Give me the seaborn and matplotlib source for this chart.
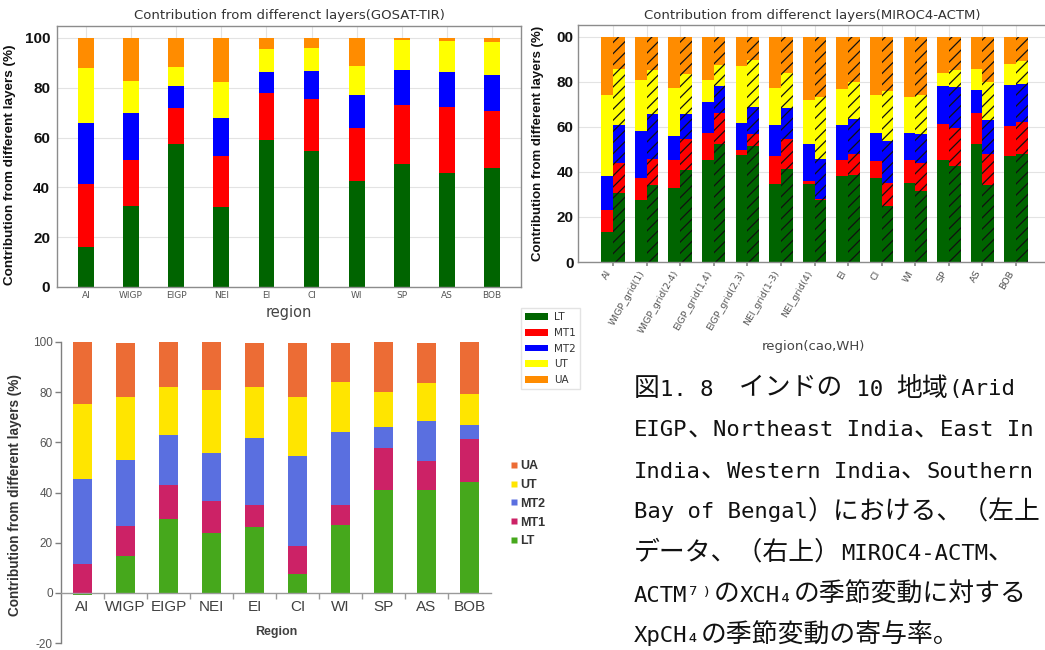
import numpy as np
import pandas as pd
import matplotlib
matplotlib.use("Agg")
import matplotlib.pyplot as plt
import seaborn as sns
from matplotlib.patches import Patch
from matplotlib.lines import Line2D
from matplotlib.offsetbox import TextArea, HPacker, AnchoredOffsetbox

# ---------------- data ----------------
layers = ["LT", "MT1", "MT2", "UT", "UA"]

# Top-left: GOSAT-TIR
gosat_regions = ["AI", "WIGP", "EIGP", "NEI", "EI", "CI", "WI", "SP", "AS", "BOB"]
gosat_LT  = [16.2, 32.4, 57.6, 32.0, 59.0, 54.6, 42.4, 49.3, 45.8, 47.9]
gosat_MT1 = [25.0, 18.7, 14.4, 20.5, 18.9, 21.0, 21.5, 23.8, 26.6, 22.6]
gosat_MT2 = [24.8, 18.8, 8.9, 15.5, 8.5, 11.3, 13.0, 14.1, 14.0, 14.8]
gosat_UT  = [21.9, 13.0, 7.4, 14.2, 9.3, 8.9, 11.7, 11.9, 12.5, 13.0]
gosat_UA  = [12.1, 17.1, 11.7, 17.8, 4.3, 4.2, 11.4, 0.9, 1.1, 1.7]

# Top-right: MIROC4-ACTM (plain bars = cao, hatched bars = WH)
miroc_regions = ["AI", "WIGP_grid(1)", "WIGP_grid(2-4)", "EIGP_grid(1,4)", "EIGP_grid(2,3)",
                 "NEI_grid(1-3)", "NEI_grid(4)", "EI", "CI", "WI", "SP", "AS", "BOB"]
cao_LT  = [13.3, 27.7, 33.0, 45.5, 47.4, 34.5, 34.5, 38.2, 37.3, 35.1, 45.2, 52.3, 47.0]
cao_MT1 = [9.7, 9.6, 12.5, 11.8, 2.2, 12.6, 1.4, 7.3, 7.4, 10.4, 16.3, 13.9, 13.4]
cao_MT2 = [15.2, 20.9, 10.4, 13.8, 12.2, 13.9, 16.4, 15.2, 12.8, 11.8, 16.7, 10.4, 18.1]
cao_UT  = [35.9, 22.5, 21.6, 9.6, 25.3, 16.5, 19.6, 16.3, 16.9, 16.0, 5.8, 9.3, 9.6]
cao_UA  = [25.9, 19.3, 22.5, 19.3, 12.9, 22.5, 28.1, 23.0, 25.6, 26.7, 16.0, 14.1, 11.9]
wh_LT  = [30.8, 34.1, 40.7, 52.6, 51.6, 41.5, 27.7, 38.5, 24.7, 31.6, 42.7, 34.1, 48.1]
wh_MT1 = [13.2, 11.8, 14.1, 13.8, 5.1, 13.3, 0.1, 9.6, 10.6, 12.4, 17.0, 14.0, 14.1]
wh_MT2 = [16.7, 19.7, 10.8, 11.8, 12.2, 13.8, 18.0, 15.6, 18.3, 13.0, 18.1, 15.2, 17.1]
wh_UT  = [24.9, 19.9, 18.1, 9.2, 20.7, 15.4, 27.5, 16.3, 22.3, 17.4, 7.7, 16.7, 10.0]
wh_UA  = [14.4, 14.5, 16.3, 12.6, 10.4, 16.0, 26.7, 20.0, 24.1, 25.6, 14.5, 20.0, 10.7]

# Bottom-left: model study (Excel style)
excel_regions = ["AI", "WIGP", "EIGP", "NEI", "EI", "CI", "WI", "SP", "AS", "BOB"]
excel_LT  = [-1.0, 14.5, 29.6, 23.8, 26.4, 7.7, 27.2, 41.0, 41.0, 44.1]
excel_MT1 = [11.3, 12.1, 13.3, 13.0, 8.8, 11.0, 8.0, 16.8, 11.5, 17.1]
excel_MT2 = [33.9, 26.3, 20.2, 18.8, 26.4, 36.0, 28.8, 8.2, 16.2, 5.6]
excel_UT  = [30.2, 25.3, 19.1, 25.4, 20.3, 23.3, 20.2, 14.1, 15.1, 12.5]
excel_UA  = [24.6, 21.4, 18.1, 19.0, 17.7, 21.6, 15.4, 19.9, 15.8, 20.7]

caption_lines = [
    "図1. 8　インドの 10 地域(Arid",
    "EIGP、Northeast India、East In",
    "India、Western India、Southern",
    "Bay of Bengal）における、（左上",
    "データ、（右上）MIROC4-ACTM、",
    "ACTM⁷⁾のXCH₄の季節変動に対する",
    "XpCH₄の季節変動の寄与率。",
]

top_colors = ["#006400", "#ff0000", "#0000ff", "#ffff00", "#ff8c00"]
excel_colors = ["#46a81c", "#cc2266", "#5a6fe0", "#ffe500", "#ec6c35"]

# ---------------- figure ----------------
sns.set_theme(style="whitegrid")
plt.rcParams["font.family"] = ["DejaVu Sans"]
plt.rcParams["axes.unicode_minus"] = False
plt.rcParams["hatch.linewidth"] = 0.9
W, H = 1045, 650
fig = plt.figure(figsize=(W / 100, H / 100), dpi=100, facecolor="white")


def frac(left, top, right, bottom):
    return [left / W, 1 - bottom / H, (right - left) / W, (bottom - top) / H]


def stacked(ax, regions, layer_vals, colors, width):
    vals = np.array(layer_vals, dtype=float)
    pos = np.clip(vals, 0, None)
    cum = np.cumsum(pos, axis=0)
    for k in range(len(vals) - 1, -1, -1):
        y = cum[k] if k > 0 else vals[0]
        sns.barplot(x=regions, y=y, color=colors[k], saturation=1, width=width,
                    errorbar=None, linewidth=0, ax=ax)


# ---------- top-left ----------
ax1 = fig.add_axes(frac(57, 26, 521, 287))
stacked(ax1, gosat_regions, [gosat_LT, gosat_MT1, gosat_MT2, gosat_UT, gosat_UA],
        top_colors, 0.35)
ax1.set_xlim(-0.64, 9.64)
ax1.set_ylim(0, 104.8)
ax1.set_yticks([0, 20, 40, 60, 80, 100])
ax1.grid(True, axis="both", color="#e3e3e3", linewidth=0.8)
ax1.set_axisbelow(True)
for s in ax1.spines.values():
    s.set_color("#8c8c8c")
    s.set_linewidth(1.0)
ax1.tick_params(axis="y", pad=5, length=0)
ax1.tick_params(axis="x", pad=3, length=0, labelsize=6.5, labelcolor="#555555")
for t in ax1.get_yticklabels():
    t.set_fontfamily("Liberation Sans")
    t.set_fontweight("bold")
    t.set_fontsize(11)
    t.set_color("#111111")
ax1.set_xlabel("region", fontsize=10.5, color="#444444")
ax1.xaxis.set_label_coords(0.5, -0.07)
ax1.set_ylabel("Contribution from different layers (%)", fontsize=9.7,
               fontweight="bold", family="Liberation Sans", color="#111111")
ax1.yaxis.set_label_coords(-0.088, 0.47)
fig.text(289 / W, 1 - 16 / H, "Contribution from differenct layers(GOSAT-TIR)",
         ha="center", va="center", fontsize=9.5, color="#333333")

# ---------- top-right ----------
ax2 = fig.add_axes(frac(578, 25, 1048, 262))
cao = np.array([cao_LT, cao_MT1, cao_MT2, cao_UT, cao_UA])
wh = np.array([wh_LT, wh_MT1, wh_MT2, wh_UT, wh_UA])
cao_cum = np.cumsum(cao, axis=0)
wh_cum = np.cumsum(wh, axis=0)
n = len(miroc_regions)
for k in range(4, -1, -1):
    df = pd.DataFrame({
        "region": miroc_regions * 2,
        "kind": ["cao"] * n + ["WH"] * n,
        "val": np.r_[cao_cum[k], wh_cum[k]],
    })
    before = len(ax2.patches)
    sns.barplot(data=df, x="region", y="val", hue="kind", order=miroc_regions,
                hue_order=["cao", "WH"], palette=[top_colors[k], top_colors[k]],
                width=0.7, gap=0, dodge=True, saturation=1, errorbar=None,
                legend=False, linewidth=0, ax=ax2)
    new = ax2.patches[before:]
    for p in new[n:]:
        p.set_hatch("///")
        p.set_edgecolor("#111111")
        p.set_linewidth(0)
ax2.set_xlim(-1.04, 12.95)
ax2.set_ylim(0, 105.3)
ax2.set_yticks([0, 20, 40, 60, 80, 100])
ax2.set_yticklabels(["0", "20", "40", "60", "80", "00"])
ax2.set_xticks(range(n))
ax2.set_xticklabels(miroc_regions, rotation=60, ha="right", rotation_mode="default")
ax2.grid(True, axis="both", color="#e3e3e3", linewidth=0.8)
ax2.set_axisbelow(True)
for s in ax2.spines.values():
    s.set_color("#8c8c8c")
    s.set_linewidth(1.0)
ax2.tick_params(axis="y", pad=3, length=0)
ax2.tick_params(axis="x", pad=2, length=3, color="#8c8c8c", bottom=True,
                labelsize=6.8, labelcolor="#555555")
for t in ax2.get_yticklabels():
    t.set_fontfamily("Liberation Sans")
    t.set_fontweight("bold")
    t.set_fontsize(11)
    t.set_color("#111111")
ax2.set_xlabel("region(cao,WH)", fontsize=9.5, color="#444444")
ax2.xaxis.set_label_coords(0.5, -0.33)
ax2.set_ylabel("Contribution from different layers (%)", fontsize=9.5,
               fontweight="bold", family="Liberation Sans", color="#111111")
ax2.yaxis.set_label_coords(-0.072, 0.5)
fig.text(812 / W, 1 - 16 / H, "Contribution from differenct layers(MIROC4-ACTM)",
         ha="center", va="center", fontsize=9.5, color="#333333")

handles = [Patch(facecolor=c, edgecolor="none", label=l) for c, l in zip(top_colors, layers)]
fig.legend(handles=handles, loc="upper left", bbox_to_anchor=(521 / W, 1 - 308 / H),
           borderaxespad=0, frameon=True, fontsize=7.5, labelcolor="#333333",
           handlelength=2.2, handleheight=0.6, labelspacing=0.55, borderpad=0.4,
           handletextpad=0.6, edgecolor="#dddddd", fancybox=False)

# ---------- bottom-left (Excel style) ----------
ax3 = fig.add_axes(frac(61, 342, 491, 643))
stacked(ax3, excel_regions, [excel_LT, excel_MT1, excel_MT2, excel_UT, excel_UA],
        excel_colors, 0.42)
ax3.set_xlim(-0.5, 9.5)
ax3.set_ylim(-20, 100)
ax3.grid(False)
ax3.set_facecolor("white")
ax3.spines["top"].set_visible(False)
ax3.spines["right"].set_visible(False)
ax3.spines["left"].set_color("#7f7f7f")
ax3.spines["bottom"].set_color("#9a9a9a")
ax3.spines["bottom"].set_position(("data", 0))
ax3.spines["left"].set_linewidth(1.0)
ax3.spines["bottom"].set_linewidth(1.0)
ax3.set_yticks([-20, 0, 20, 40, 60, 80, 100])
ax3.tick_params(axis="y", left=True, length=4, width=1, color="#7f7f7f", pad=2,
                labelsize=8.5, labelcolor="#555555")
ax3.set_xticks(range(len(excel_regions)))
ax3.set_xticks(np.arange(0.5, 9.5, 1.0), minor=True)
ax3.tick_params(axis="x", which="major", length=0, pad=5, labelsize=11,
                labelcolor="#404040")
ax3.tick_params(axis="x", which="minor", bottom=True, length=4, width=1,
                color="#9a9a9a")
for t in ax3.get_xticklabels() + ax3.get_yticklabels():
    t.set_fontfamily("Liberation Sans")
ax3.set_xlabel("Region", fontsize=9, fontweight="bold", family="Liberation Sans",
               color="#404040")
ax3.xaxis.set_label_coords(0.5, 0.056)
ax3.set_ylabel("Contribution from different layers (%)", fontsize=9.8,
               fontweight="bold", family="Liberation Sans", color="#333333")
ax3.yaxis.set_label_coords(-0.09, 0.49)

ex_handles = [Line2D([], [], marker="s", linestyle="none", markersize=5,
                     markerfacecolor=c, markeredgecolor="none", label=l)
              for c, l in zip(excel_colors[::-1], layers[::-1])]
fig.legend(handles=ex_handles, loc="upper left", bbox_to_anchor=(505 / W, 1 - 455 / H),
           borderaxespad=0, frameon=False, handlelength=0.6, handletextpad=0.2,
           labelspacing=0.55, prop={"family": "Liberation Sans", "weight": "bold",
                                    "size": 9}, labelcolor="#333333")

# ---------- caption (half-width Latin + full-width CJK runs) ----------
def runs(text):
    out = []
    for ch in text:
        wide = ord(ch) >= 0x3000
        if out and out[-1][1] == wide:
            out[-1][0] += ch
        else:
            out.append([ch, wide])
    return out


cap_y = [388, 429, 470, 511, 552, 594, 635]
for line, yy in zip(caption_lines, cap_y):
    parts = []
    for txt, wide in runs(line):
        if wide:
            props = dict(fontsize=18.6, family=["Noto Sans CJK JP", "DejaVu Sans"],
                         color="#111111")
        else:
            props = dict(fontsize=16.0, family=["DejaVu Sans Mono", "Noto Sans CJK JP"],
                         color="#111111")
        parts.append(TextArea(txt, textprops=props))
    pack = HPacker(children=parts, align="baseline", pad=0, sep=0)
    box = AnchoredOffsetbox(loc="center left", child=pack, pad=0, borderpad=0,
                            frameon=False, bbox_to_anchor=(634 / W, 1 - yy / H),
                            bbox_transform=fig.transFigure)
    fig.add_artist(box)

fig.savefig("out.png", dpi=100, facecolor="white")
